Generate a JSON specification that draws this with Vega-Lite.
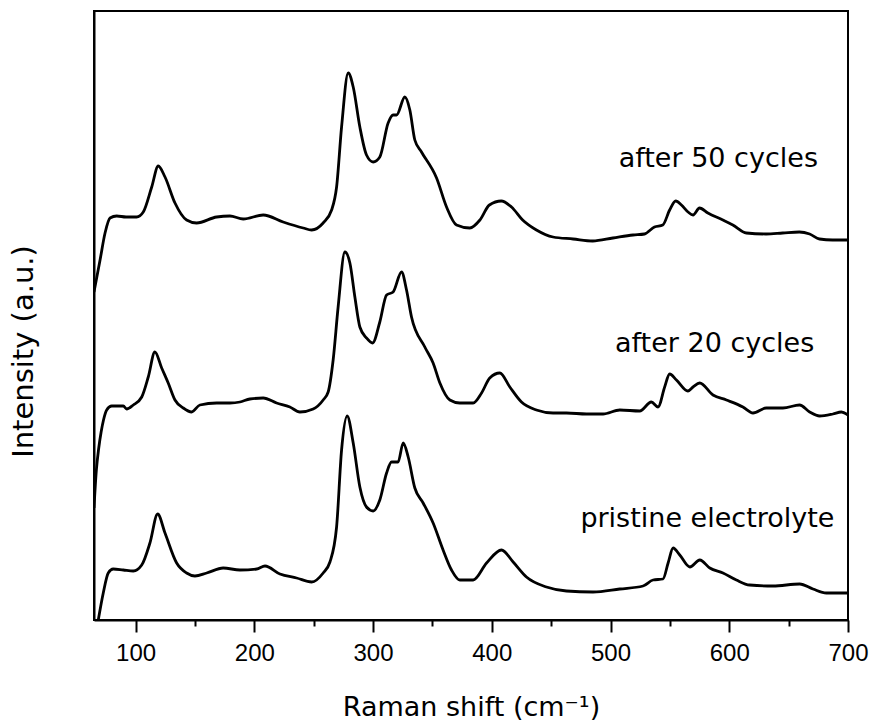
{
  "$schema": "https://vega.github.io/schema/vega-lite/v6.json",
  "width": 754,
  "height": 609,
  "autosize": {"type": "none"},
  "padding": {"left": 94, "top": 11, "right": 27, "bottom": 106},
  "background": "white",
  "config": {"view": {"stroke": "black", "strokeWidth": 2}, "axis": {"grid": false}},
  "datasets": {
    "labels": [
      {"label": "after 50 cycles", "shift": 590.8, "intensity": 453},
      {"label": "after 20 cycles", "shift": 587.7, "intensity": 268},
      {"label": "pristine electrolyte", "shift": 581.6, "intensity": 93}
    ],
    "spectra": [
      {"series": "after 50 cycles", "shift": 65, "intensity": 328},
      {"series": "after 50 cycles", "shift": 70.1, "intensity": 360},
      {"series": "after 50 cycles", "shift": 74.3, "intensity": 387},
      {"series": "after 50 cycles", "shift": 78.5, "intensity": 402},
      {"series": "after 50 cycles", "shift": 84.1, "intensity": 404},
      {"series": "after 50 cycles", "shift": 92, "intensity": 403},
      {"series": "after 50 cycles", "shift": 100.9, "intensity": 403},
      {"series": "after 50 cycles", "shift": 106.5, "intensity": 408},
      {"series": "after 50 cycles", "shift": 113.6, "intensity": 433},
      {"series": "after 50 cycles", "shift": 119.1, "intensity": 454},
      {"series": "after 50 cycles", "shift": 124.8, "intensity": 443},
      {"series": "after 50 cycles", "shift": 133.2, "intensity": 417},
      {"series": "after 50 cycles", "shift": 143, "intensity": 400},
      {"series": "after 50 cycles", "shift": 151.4, "intensity": 397},
      {"series": "after 50 cycles", "shift": 168.3, "intensity": 403},
      {"series": "after 50 cycles", "shift": 179.5, "intensity": 404},
      {"series": "after 50 cycles", "shift": 190.7, "intensity": 401},
      {"series": "after 50 cycles", "shift": 207.5, "intensity": 405},
      {"series": "after 50 cycles", "shift": 224.3, "intensity": 398},
      {"series": "after 50 cycles", "shift": 241.2, "intensity": 392},
      {"series": "after 50 cycles", "shift": 248.3, "intensity": 390},
      {"series": "after 50 cycles", "shift": 258, "intensity": 397},
      {"series": "after 50 cycles", "shift": 265.1, "intensity": 410},
      {"series": "after 50 cycles", "shift": 269.3, "intensity": 433},
      {"series": "after 50 cycles", "shift": 273.5, "intensity": 493},
      {"series": "after 50 cycles", "shift": 279.1, "intensity": 547},
      {"series": "after 50 cycles", "shift": 283.3, "intensity": 533},
      {"series": "after 50 cycles", "shift": 288.9, "intensity": 493},
      {"series": "after 50 cycles", "shift": 294.5, "intensity": 465},
      {"series": "after 50 cycles", "shift": 300.1, "intensity": 458},
      {"series": "after 50 cycles", "shift": 305.7, "intensity": 463},
      {"series": "after 50 cycles", "shift": 312.7, "intensity": 497},
      {"series": "after 50 cycles", "shift": 316.9, "intensity": 505},
      {"series": "after 50 cycles", "shift": 319.8, "intensity": 505},
      {"series": "after 50 cycles", "shift": 326.8, "intensity": 523},
      {"series": "after 50 cycles", "shift": 331, "intensity": 510},
      {"series": "after 50 cycles", "shift": 335.2, "intensity": 480},
      {"series": "after 50 cycles", "shift": 340.8, "intensity": 468},
      {"series": "after 50 cycles", "shift": 353.5, "intensity": 442},
      {"series": "after 50 cycles", "shift": 361.9, "intensity": 413},
      {"series": "after 50 cycles", "shift": 370.3, "intensity": 395},
      {"series": "after 50 cycles", "shift": 381.5, "intensity": 392},
      {"series": "after 50 cycles", "shift": 390, "intensity": 400},
      {"series": "after 50 cycles", "shift": 398, "intensity": 415},
      {"series": "after 50 cycles", "shift": 408, "intensity": 419},
      {"series": "after 50 cycles", "shift": 416.6, "intensity": 413},
      {"series": "after 50 cycles", "shift": 426, "intensity": 400},
      {"series": "after 50 cycles", "shift": 437.6, "intensity": 390},
      {"series": "after 50 cycles", "shift": 451.6, "intensity": 383},
      {"series": "after 50 cycles", "shift": 468.5, "intensity": 381},
      {"series": "after 50 cycles", "shift": 485, "intensity": 379},
      {"series": "after 50 cycles", "shift": 502, "intensity": 382},
      {"series": "after 50 cycles", "shift": 519, "intensity": 385},
      {"series": "after 50 cycles", "shift": 528.6, "intensity": 386},
      {"series": "after 50 cycles", "shift": 537, "intensity": 393},
      {"series": "after 50 cycles", "shift": 544, "intensity": 395},
      {"series": "after 50 cycles", "shift": 549.8, "intensity": 410},
      {"series": "after 50 cycles", "shift": 554.9, "intensity": 419},
      {"series": "after 50 cycles", "shift": 559.7, "intensity": 415},
      {"series": "after 50 cycles", "shift": 565.3, "intensity": 408},
      {"series": "after 50 cycles", "shift": 569.5, "intensity": 405},
      {"series": "after 50 cycles", "shift": 575, "intensity": 412},
      {"series": "after 50 cycles", "shift": 582, "intensity": 407},
      {"series": "after 50 cycles", "shift": 594.6, "intensity": 400},
      {"series": "after 50 cycles", "shift": 603, "intensity": 395},
      {"series": "after 50 cycles", "shift": 614.4, "intensity": 387},
      {"series": "after 50 cycles", "shift": 631, "intensity": 386},
      {"series": "after 50 cycles", "shift": 645, "intensity": 387},
      {"series": "after 50 cycles", "shift": 659, "intensity": 388},
      {"series": "after 50 cycles", "shift": 667.7, "intensity": 386},
      {"series": "after 50 cycles", "shift": 676, "intensity": 381},
      {"series": "after 50 cycles", "shift": 687, "intensity": 380},
      {"series": "after 50 cycles", "shift": 700, "intensity": 380},

      {"series": "after 20 cycles", "shift": 65, "intensity": 112},
      {"series": "after 20 cycles", "shift": 67, "intensity": 150},
      {"series": "after 20 cycles", "shift": 69, "intensity": 172},
      {"series": "after 20 cycles", "shift": 71, "intensity": 188},
      {"series": "after 20 cycles", "shift": 73, "intensity": 200},
      {"series": "after 20 cycles", "shift": 75.7, "intensity": 210},
      {"series": "after 20 cycles", "shift": 79.9, "intensity": 214},
      {"series": "after 20 cycles", "shift": 89.7, "intensity": 214},
      {"series": "after 20 cycles", "shift": 92.5, "intensity": 211},
      {"series": "after 20 cycles", "shift": 98.1, "intensity": 215},
      {"series": "after 20 cycles", "shift": 105.2, "intensity": 223},
      {"series": "after 20 cycles", "shift": 110.7, "intensity": 243},
      {"series": "after 20 cycles", "shift": 116.3, "intensity": 268},
      {"series": "after 20 cycles", "shift": 122, "intensity": 252},
      {"series": "after 20 cycles", "shift": 127.5, "intensity": 237},
      {"series": "after 20 cycles", "shift": 133.2, "intensity": 220},
      {"series": "after 20 cycles", "shift": 140.2, "intensity": 212},
      {"series": "after 20 cycles", "shift": 147.2, "intensity": 208},
      {"series": "after 20 cycles", "shift": 154.2, "intensity": 215},
      {"series": "after 20 cycles", "shift": 168.3, "intensity": 217},
      {"series": "after 20 cycles", "shift": 179.5, "intensity": 217},
      {"series": "after 20 cycles", "shift": 187.9, "intensity": 218},
      {"series": "after 20 cycles", "shift": 196.3, "intensity": 221},
      {"series": "after 20 cycles", "shift": 207.5, "intensity": 222},
      {"series": "after 20 cycles", "shift": 218.8, "intensity": 217},
      {"series": "after 20 cycles", "shift": 230, "intensity": 213},
      {"series": "after 20 cycles", "shift": 238.4, "intensity": 208},
      {"series": "after 20 cycles", "shift": 249.6, "intensity": 211},
      {"series": "after 20 cycles", "shift": 258, "intensity": 220},
      {"series": "after 20 cycles", "shift": 262.2, "intensity": 228},
      {"series": "after 20 cycles", "shift": 266.4, "intensity": 260},
      {"series": "after 20 cycles", "shift": 270.6, "intensity": 313},
      {"series": "after 20 cycles", "shift": 276.3, "intensity": 368},
      {"series": "after 20 cycles", "shift": 280.5, "intensity": 357},
      {"series": "after 20 cycles", "shift": 284.7, "intensity": 323},
      {"series": "after 20 cycles", "shift": 288.9, "intensity": 293},
      {"series": "after 20 cycles", "shift": 294.5, "intensity": 282},
      {"series": "after 20 cycles", "shift": 299.6, "intensity": 277},
      {"series": "after 20 cycles", "shift": 305.7, "intensity": 298},
      {"series": "after 20 cycles", "shift": 311.4, "intensity": 325},
      {"series": "after 20 cycles", "shift": 316.9, "intensity": 328},
      {"series": "after 20 cycles", "shift": 324, "intensity": 348},
      {"series": "after 20 cycles", "shift": 328.2, "intensity": 330},
      {"series": "after 20 cycles", "shift": 332.4, "intensity": 303},
      {"series": "after 20 cycles", "shift": 343.6, "intensity": 273},
      {"series": "after 20 cycles", "shift": 350.6, "intensity": 257},
      {"series": "after 20 cycles", "shift": 356.3, "intensity": 237},
      {"series": "after 20 cycles", "shift": 364.7, "intensity": 220},
      {"series": "after 20 cycles", "shift": 373, "intensity": 217},
      {"series": "after 20 cycles", "shift": 384.3, "intensity": 217},
      {"series": "after 20 cycles", "shift": 391.4, "intensity": 227},
      {"series": "after 20 cycles", "shift": 398.3, "intensity": 242},
      {"series": "after 20 cycles", "shift": 406.8, "intensity": 247},
      {"series": "after 20 cycles", "shift": 415.2, "intensity": 233},
      {"series": "after 20 cycles", "shift": 425, "intensity": 218},
      {"series": "after 20 cycles", "shift": 437.6, "intensity": 210},
      {"series": "after 20 cycles", "shift": 451.6, "intensity": 207},
      {"series": "after 20 cycles", "shift": 462.9, "intensity": 207},
      {"series": "after 20 cycles", "shift": 479.7, "intensity": 206},
      {"series": "after 20 cycles", "shift": 493.7, "intensity": 206},
      {"series": "after 20 cycles", "shift": 507.8, "intensity": 210},
      {"series": "after 20 cycles", "shift": 524.6, "intensity": 209},
      {"series": "after 20 cycles", "shift": 534.4, "intensity": 218},
      {"series": "after 20 cycles", "shift": 540, "intensity": 213},
      {"series": "after 20 cycles", "shift": 545.6, "intensity": 233},
      {"series": "after 20 cycles", "shift": 549.8, "intensity": 246},
      {"series": "after 20 cycles", "shift": 555.5, "intensity": 240},
      {"series": "after 20 cycles", "shift": 565.2, "intensity": 229},
      {"series": "after 20 cycles", "shift": 569.5, "intensity": 233},
      {"series": "after 20 cycles", "shift": 575.1, "intensity": 237},
      {"series": "after 20 cycles", "shift": 586.3, "intensity": 225},
      {"series": "after 20 cycles", "shift": 597.6, "intensity": 220},
      {"series": "after 20 cycles", "shift": 611.5, "intensity": 213},
      {"series": "after 20 cycles", "shift": 620, "intensity": 207},
      {"series": "after 20 cycles", "shift": 631.2, "intensity": 212},
      {"series": "after 20 cycles", "shift": 645.2, "intensity": 212},
      {"series": "after 20 cycles", "shift": 659.2, "intensity": 215},
      {"series": "after 20 cycles", "shift": 667.7, "intensity": 208},
      {"series": "after 20 cycles", "shift": 676.1, "intensity": 204},
      {"series": "after 20 cycles", "shift": 687.3, "intensity": 206},
      {"series": "after 20 cycles", "shift": 694.4, "intensity": 208},
      {"series": "after 20 cycles", "shift": 700, "intensity": 205},

      {"series": "pristine electrolyte", "shift": 68.6, "intensity": 0},
      {"series": "pristine electrolyte", "shift": 72.8, "intensity": 27},
      {"series": "pristine electrolyte", "shift": 77, "intensity": 47},
      {"series": "pristine electrolyte", "shift": 81.2, "intensity": 51},
      {"series": "pristine electrolyte", "shift": 89.7, "intensity": 50},
      {"series": "pristine electrolyte", "shift": 98.1, "intensity": 49},
      {"series": "pristine electrolyte", "shift": 105.2, "intensity": 55},
      {"series": "pristine electrolyte", "shift": 112.1, "intensity": 77},
      {"series": "pristine electrolyte", "shift": 118.6, "intensity": 106},
      {"series": "pristine electrolyte", "shift": 124.8, "intensity": 87},
      {"series": "pristine electrolyte", "shift": 134.6, "intensity": 57},
      {"series": "pristine electrolyte", "shift": 143, "intensity": 47},
      {"series": "pristine electrolyte", "shift": 150, "intensity": 44},
      {"series": "pristine electrolyte", "shift": 159.9, "intensity": 47},
      {"series": "pristine electrolyte", "shift": 173.8, "intensity": 52},
      {"series": "pristine electrolyte", "shift": 187.9, "intensity": 50},
      {"series": "pristine electrolyte", "shift": 202, "intensity": 51},
      {"series": "pristine electrolyte", "shift": 209, "intensity": 54},
      {"series": "pristine electrolyte", "shift": 221.6, "intensity": 46},
      {"series": "pristine electrolyte", "shift": 235.6, "intensity": 42},
      {"series": "pristine electrolyte", "shift": 248.3, "intensity": 38},
      {"series": "pristine electrolyte", "shift": 258, "intensity": 47},
      {"series": "pristine electrolyte", "shift": 263.7, "intensity": 58},
      {"series": "pristine electrolyte", "shift": 269.3, "intensity": 93},
      {"series": "pristine electrolyte", "shift": 273.5, "intensity": 170},
      {"series": "pristine electrolyte", "shift": 278.2, "intensity": 204},
      {"series": "pristine electrolyte", "shift": 283.3, "intensity": 177},
      {"series": "pristine electrolyte", "shift": 288.9, "intensity": 133},
      {"series": "pristine electrolyte", "shift": 294.5, "intensity": 113},
      {"series": "pristine electrolyte", "shift": 300.1, "intensity": 109},
      {"series": "pristine electrolyte", "shift": 305.7, "intensity": 120},
      {"series": "pristine electrolyte", "shift": 311.4, "intensity": 147},
      {"series": "pristine electrolyte", "shift": 315.6, "intensity": 158},
      {"series": "pristine electrolyte", "shift": 321.1, "intensity": 158},
      {"series": "pristine electrolyte", "shift": 325.4, "intensity": 177},
      {"series": "pristine electrolyte", "shift": 329.6, "intensity": 163},
      {"series": "pristine electrolyte", "shift": 335.2, "intensity": 132},
      {"series": "pristine electrolyte", "shift": 342.2, "intensity": 117},
      {"series": "pristine electrolyte", "shift": 350.6, "intensity": 97},
      {"series": "pristine electrolyte", "shift": 359, "intensity": 70},
      {"series": "pristine electrolyte", "shift": 366.1, "intensity": 50},
      {"series": "pristine electrolyte", "shift": 373.1, "intensity": 40},
      {"series": "pristine electrolyte", "shift": 384.3, "intensity": 40},
      {"series": "pristine electrolyte", "shift": 395.6, "intensity": 57},
      {"series": "pristine electrolyte", "shift": 408.2, "intensity": 70},
      {"series": "pristine electrolyte", "shift": 418, "intensity": 58},
      {"series": "pristine electrolyte", "shift": 429.2, "intensity": 43},
      {"series": "pristine electrolyte", "shift": 446.1, "intensity": 33},
      {"series": "pristine electrolyte", "shift": 462.9, "intensity": 29},
      {"series": "pristine electrolyte", "shift": 485.3, "intensity": 28},
      {"series": "pristine electrolyte", "shift": 507.8, "intensity": 31},
      {"series": "pristine electrolyte", "shift": 527.4, "intensity": 34},
      {"series": "pristine electrolyte", "shift": 535.8, "intensity": 40},
      {"series": "pristine electrolyte", "shift": 544.2, "intensity": 41},
      {"series": "pristine electrolyte", "shift": 548.5, "intensity": 57},
      {"series": "pristine electrolyte", "shift": 552.7, "intensity": 72},
      {"series": "pristine electrolyte", "shift": 558.3, "intensity": 65},
      {"series": "pristine electrolyte", "shift": 566.8, "intensity": 53},
      {"series": "pristine electrolyte", "shift": 575.2, "intensity": 60},
      {"series": "pristine electrolyte", "shift": 583.6, "intensity": 52},
      {"series": "pristine electrolyte", "shift": 594.7, "intensity": 47},
      {"series": "pristine electrolyte", "shift": 606, "intensity": 40},
      {"series": "pristine electrolyte", "shift": 617.2, "intensity": 35},
      {"series": "pristine electrolyte", "shift": 636.8, "intensity": 34},
      {"series": "pristine electrolyte", "shift": 659.3, "intensity": 36},
      {"series": "pristine electrolyte", "shift": 670.5, "intensity": 31},
      {"series": "pristine electrolyte", "shift": 681.8, "intensity": 27},
      {"series": "pristine electrolyte", "shift": 700, "intensity": 27}
    ]
  },
  "encoding": {
    "y": {
      "field": "intensity", "type": "quantitative",
      "scale": {"domain": [0, 609], "nice": false, "zero": false},
      "axis": {
        "orient": "left",
        "ticks": false, "labels": false, "domainColor": "black", "domainWidth": 2,
        "title": "Intensity (a.u.)",
        "titleFont": "DejaVu Sans", "titleFontSize": 29, "titleFontWeight": "normal", "titleColor": "black",
        "titlePadding": 56, "titleY": 340
      }
    }
  },
  "layer": [
    {
      "data": {"name": "spectra"},
      "mark": {"type": "line", "color": "black", "strokeWidth": 2.8, "clip": true, "strokeJoin": "round", "interpolate": "monotone"},
      "encoding": {
        "x": {
          "field": "shift", "type": "quantitative",
          "scale": {"domain": [65, 700], "nice": false, "zero": false},
          "axis": {
            "values": [100, 200, 300, 400, 500, 600, 700],
            "tickSize": 12, "tickWidth": 2, "tickColor": "black",
            "domainColor": "black", "domainWidth": 2,
            "labelFont": "Liberation Sans", "labelFontSize": 24, "labelColor": "black", "labelPadding": 9,
            "labelFlush": false, "labelOverlap": false,
            "title": "Raman shift (cm⁻¹)",
            "titleFont": "DejaVu Sans", "titleFontSize": 27, "titleFontWeight": "normal", "titleColor": "black",
            "titleY": 95, "titleBaseline": "alphabetic"
          }
        },
        "detail": {"field": "series"}
      }
    },
    {
      "data": {"name": "spectra"},
      "mark": {"type": "line", "opacity": 0},
      "encoding": {
        "x": {
          "field": "shift", "type": "quantitative",
          "scale": {"domain": [65, 700], "nice": false, "zero": false},
          "axis": {
            "orient": "bottom",
            "values": [150, 250, 350, 450, 550, 650],
            "tickSize": 6, "tickWidth": 2, "tickColor": "black",
            "labels": false, "domain": false, "title": null
          }
        },
        "detail": {"field": "series"}
      }
    },
    {
      "data": {"name": "labels"},
      "mark": {"type": "text", "font": "DejaVu Sans", "fontSize": 27, "color": "black", "align": "center", "baseline": "alphabetic"},
      "encoding": {
        "x": {"field": "shift", "type": "quantitative", "axis": null},
        "text": {"field": "label"}
      }
    }
  ],
  "resolve": {"axis": {"x": "independent"}}
}
